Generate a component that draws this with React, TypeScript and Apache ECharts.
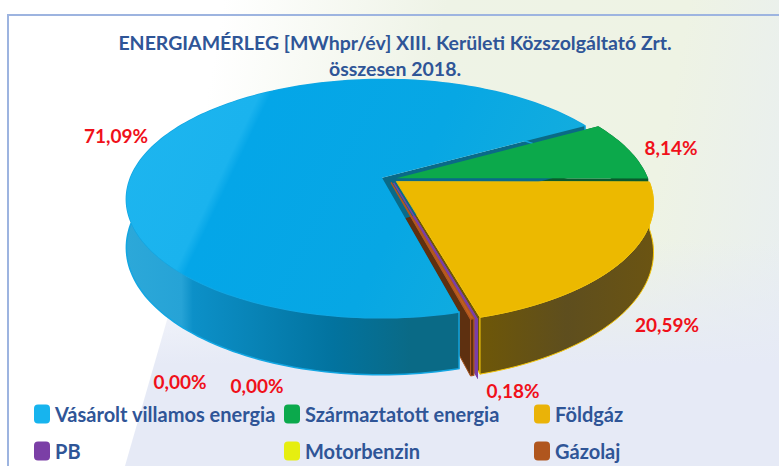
import React, { useEffect, useRef } from "react";
import * as echarts from "echarts";

const titleLines = ["ENERGIAMÉRLEG [MWhpr/év] XIII. Kerületi Közszolgáltató Zrt.", "összesen 2018."];
const categories = ["Vásárolt villamos energia", "Származtatott energia", "Földgáz", "PB", "Motorbenzin", "Gázolaj"];
const shares = [71.09, 8.14, 20.59, 0.0, 0.0, 0.18];
const colors = ["#17B4EE", "#0BA94C", "#EAB308", "#7B3FA6", "#E6EE10", "#B0561E"];

// Layout (not data)
const START_ANGLE = 75;
const CX = 389, CY = 179, RX = 252, RY = 116, PERSP = 0.1765, DEPTH = 47;
const EXPLODE = [0.03, 0.03, 0.036, 0.035, 0.035, 0.03];
const NUDGE_X = [0, 0, 0, 0.009, 0, 0];
const LABEL_POS = [[116, 135], [671, 147], [667, 324], [180, 381], [257, 385], [513, 390]];
const LEGEND_POS = [[34, 404], [284, 404], [534, 404], [34, 441], [284, 441], [534, 441]];
const TOP_FILL = [
  new echarts.graphic.LinearGradient(125, 150, 575, 365, [
    { offset: 0, color: "#1DB5EF" }, { offset: 0.195, color: "#1AB3EE" }, { offset: 0.215, color: "#04A6E8" },
    { offset: 0.55, color: "#07A7E4" }, { offset: 0.8, color: "#12ACDE" }, { offset: 1, color: "#12ACDE" }], true),
  "#0CA94B", "#ECB900", "#7B3FA6", "#E6EE10", "#C0601F",
];
const WALL_FILL = [
  new echarts.graphic.LinearGradient(0, 0, 1, 0, [
    { offset: 0, color: "#2CA8D9" }, { offset: 0.12, color: "#26A3D6" }, { offset: 0.145, color: "#0C90C8" },
    { offset: 0.45, color: "#02739F" }, { offset: 0.62, color: "#0A6A86" }, { offset: 1, color: "#0A6A86" }]),
  "#0A5A2C",
  new echarts.graphic.LinearGradient(0, 0, 1, 0, [
    { offset: 0, color: "#6E5708" }, { offset: 0.5, color: "#5E4E1E" }, { offset: 1, color: "#6B5412" }]),
  "#7B3FA6", "#8E8E10", "#5E3010",
];
const CUT_FILL = ["#0A6A88", "#0B5A2C", "#6E5708", "#7B3FA6", "#8E8E10", "#5E3010"];
const WALL_Z = [6, 0, 1, 2, 1.5, 4];

const total = shares.reduce((a, b) => a + b, 0);
const pct = (v: number) => v.toFixed(2).replace(".", ",") + "%";

function project(X: number, Y: number, low: boolean) {
  const k = 1 / (1 - PERSP * Y);
  return [CX + RX * X * k, CY + RY * Y * k + (low ? DEPTH * k : 0)];
}

function makeRender(index: number) {
  return (_params: any, api: any) => {
    const before = shares.slice(0, index).reduce((a, b) => a + b, 0);
    const value = api.value(0);
    const a0 = START_ANGLE + (before / total) * 360;
    const a1 = a0 + (value / total) * 360;
    const mid = ((a0 + a1) / 2) * Math.PI / 180;
    const ox = EXPLODE[index] * Math.cos(mid) + NUDGE_X[index], oy = EXPLODE[index] * Math.sin(mid);
    const rim = (deg: number, low: boolean) => {
      const r = deg * Math.PI / 180;
      return project(ox + Math.cos(r), oy + Math.sin(r), low);
    };
    const steps = Math.max(1, Math.ceil((a1 - a0) / 1.5));
    const topArc: number[][] = [], lowArc: number[][] = [];
    for (let i = 0; i <= steps; i++) {
      const d = a0 + ((a1 - a0) * i) / steps;
      topArc.push(rim(d, false));
      lowArc.push(rim(d, true));
    }
    const apexT = project(ox, oy, false), apexL = project(ox, oy, true);
    const isThin = value / total < 0.005;
    const edge = index === 2 ? "#F6C70A" : index === 0 ? "#12A6E2" : isThin ? colors[index] : "none";
    const children: any[] = [];
    const cut = (deg: number) => ({
      type: "polygon", z2: WALL_Z[index],
      shape: { points: [apexT, rim(deg, false), rim(deg, true), apexL] },
      style: {
        fill: CUT_FILL[index],
        stroke: index === 3 ? colors[index] : index === 5 ? "#A8561E" : index === 2 ? "#F6C70A" : "none",
        lineWidth: index === 3 ? 1.5 : 1,
      },
    });
    if (value > 0 || index === 3) {
      children.push(cut(a0), cut(a1));
      children.push({
        type: "polygon", z2: WALL_Z[index] + 0.5,
        shape: { points: topArc.concat(lowArc.slice().reverse()) },
        style: { fill: WALL_FILL[index], stroke: edge, lineWidth: index === 0 ? 1.5 : 1 },
      });
      children.push({
        type: "polygon", z2: 20 + (index === 2 ? 1 : index > 2 ? 2 : 0),
        shape: { points: [apexT].concat(topArc) },
        style: { fill: TOP_FILL[index], stroke: isThin ? colors[index] : index === 2 ? "#EFC00A" : "none", lineWidth: isThin ? 1.4 : 0.8 },
      });
    }
    children.push({
      type: "text", z2: 30, x: LABEL_POS[index][0], y: LABEL_POS[index][1],
      style: {
        text: pct(value), fill: "#F0101A", fontFamily: "Lato", fontWeight: "bold", fontSize: 19,
        align: "center", verticalAlign: "middle",
      },
    });
    return { type: "group", children };
  };
}

export default function App() {
  const ref = useRef<HTMLDivElement>(null);
  useEffect(() => {
    const chart = echarts.init(ref.current!, null, { renderer: "svg" });
    chart.setOption({
      animation: false,
      backgroundColor: "transparent",
      title: {
        text: titleLines.join("\n"), left: 390, top: 24, textAlign: "center",
        textStyle: { color: "#2F5597", fontFamily: "Lato", fontWeight: "bold", fontSize: 19.5, lineHeight: 26 },
      },
      legend: categories.map((name, i) => ({
        data: [name], left: LEGEND_POS[i][0], top: LEGEND_POS[i][1], orient: "horizontal",
        icon: "roundRect", itemWidth: 16, itemHeight: 19, selectedMode: false, padding: 0,
        textStyle: { color: "#2F5597", fontFamily: "Lato", fontWeight: "bold", fontSize: 20 },
      })),
      series: categories.map((name, i) => ({
        type: "custom", name, coordinateSystem: "none", silent: true,
        itemStyle: { color: colors[i] },
        data: [[shares[i]]],
        renderItem: makeRender(i),
      })),
    });
    return () => chart.dispose();
  }, []);
  return (
    <div style={{
      position: "fixed", left: 0, top: 0, width: 779, height: 466, overflow: "hidden",
      background: "linear-gradient(100deg, #FFFFFF 0%, #FFFFFF 26%, #EEF3E6 52%, #EEF3E4 80%, #E8EEF2 100%)",
    }}>
      <div style={{
        position: "absolute", left: 0, top: 240, width: 779, height: 226,
        clipPath: "polygon(190px 0, 779px 0, 779px 226px, 125px 226px)",
        background: "linear-gradient(180deg, rgba(230,234,246,0) 0%, #E6EAF6 55%, #E6EAF6 100%)",
      }} />
      <div style={{
        position: "absolute", left: 7, top: 14, width: 772, height: 452, boxSizing: "border-box",
        borderLeft: "2px solid #9DB4E0", borderTop: "2px solid #9DB4E0",
      }} />
      <div ref={ref} style={{ position: "absolute", left: 0, top: 0, width: 779, height: 466 }} />
    </div>
  );
}
